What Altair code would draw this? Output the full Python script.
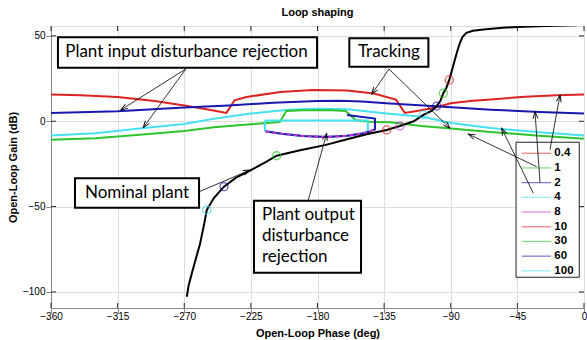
import math
import altair as alt
import pandas as pd

# ---------------- data ----------------
FREQS = ["0.4", "1", "2", "4", "8", "10", "30", "60", "100"]
FREQ_COLORS = ["#dd2222", "#2ec42e", "#1818b0", "#46e1f0", "#cc33cc",
               "#dd2222", "#2ec42e", "#1818b0", "#46e1f0"]

# boundaries (phase deg, gain dB)
b04_phase = [-360, -340, -315, -290, -270, -255, -241.5, -236, -228, -205, -183, -160,
             -142, -127, -121, -112, -101, -90, -75, -63, -40, -18, 0]
b04_gain = [15.6, 15.3, 14.2, 11.8, 9.2, 7.0, 4.9, 12.3, 14.2, 17.2, 18.3, 18.0,
            16.2, 12.7, 4.9, 6.2, 7.9, 10.5, 12.0, 12.8, 14.3, 15.2, 15.6]

b2_phase = [-360, -315, -270, -240, -210, -180, -165, -150, -131, -100, -63, -30, 0]
b2_gain = [4.8, 5.9, 8.0, 9.2, 10.8, 11.8, 12.0, 11.5, 10.4, 8.8, 6.8, 5.4, 4.5]

b4_phase = [-360, -330, -297, -270, -250, -225, -200, -180, -160, -133, -108, -90, -63, -30, 0]
b4_gain = [-8.3, -7.0, -3.9, -1.6, 1.5, 4.5, 6.8, 7.3, 7.0, 4.5, 2.5, -1.0, -3.9, -6.5, -8.3]

b1_phase = [-360, -330, -315, -290, -270, -250, -225, -205.5, -201, -190, -170, -161,
            -154, -145, -131, -110, -90, -63, -30, 0]
b1_gain = [-10.8, -10.0, -9.0, -7.2, -5.7, -3.5, -1.8, -0.5, 6.0, 6.5, 6.5, 6.0,
           0.6, -0.3, -0.6, -2.8, -4.3, -6.3, -8.5, -10.3]

b100_phase = [-215.5, -146, -146, -150, -160, -174, -190, -204, -215.5, -215.5]
b100_gain = [0.5, 0.5, -5.8, -7.2, -8.5, -9.2, -8.6, -7.3, -5.5, 0.5]

b60_phase = [-160, -141.2, -141.2, -145, -150, -160, -174, -190, -204, -215]
b60_gain = [3.6, 1.6, -4.8, -6.2, -7.2, -8.5, -9.2, -8.6, -7.3, -6.0]

b8_phase = [-215, -204, -190, -174, -160, -150, -145, -142]
b8_gain = [-6.0, -7.3, -8.6, -9.2, -8.5, -7.2, -6.2, -4.8]

# nominal plant
nom_phase = [-268.3, -267, -265, -262, -259.4, -256.5, -254.8, -250, -243.2, -235, -225.6,
             -215, -207.6, -191.8, -175, -160, -146.8, -133.3, -124.3, -115, -108.5, -103,
             -99.5, -97, -95, -93, -91, -88.5, -86, -84, -82, -79.5, -75, -68, -55, -41, -20, -5]
nom_gain = [-102.8, -96, -89.5, -80, -72, -60, -52.0, -45, -38.3, -33, -28.9,
            -24, -20.2, -17, -14, -10.5, -7.6, -5.1, -2.8, 0, 3.7, 6,
            8.9, 12, 16.4, 19.5, 24.2, 32, 39.8, 45.5, 49.5, 51.8, 53.0, 53.8, 54.8, 55.4, 55.9, 56.2]

# frequency markers on the nominal plant
mark_phase = [-91.0, -95.0, -99.5, -108.5, -124.3, -133.3, -207.6, -243.2, -254.8]
mark_gain = [24.2, 16.4, 8.9, 3.7, -2.8, -5.1, -20.2, -38.3, -52.0]

# annotation boxes
box_text = ["Plant input disturbance rejection", "Tracking", "Nominal plant"]
box_x0 = [-355.3, -158.5, -343.8]
box_x1 = [-180.3, -105.1, -260.0]
box_y0 = [49.2, 48.6, -33.4]
box_y1 = [31.4, 32.0, -50.6]
box_tx = [-268.5, -131.8, -301.9]
box_ty = [40.3, 40.3, -42.0]

out_text = "Plant output\ndisturbance\nrejection"
out_box = [-222.9, -150.6, -46.5, -88.7]
out_txt_pos = [-217.5, -54.9]

# legend frame (phase0, phase1, gain_top, gain_bottom)
legend_box = [-45.9, -3.2, -12.3, -91.4]

# arrows: tail -> head
arr_tx = [-269.0, -269.0, -131.7, -131.7, -31.95, -34.2, -29.7, -23.0, -260.0, -186.2]
arr_ty = [30.6, 30.6, 30.6, 30.6, -26.6, -42.2, -36.0, -16.8, -41.3, -46.1]
arr_hx = [-312.9, -297.7, -143.4, -90.5, -78.1, -55.6, -33.1, -16.2, -225.6, -173.8]
arr_hy = [6.6, -3.8, 15.8, -4.1, -7.5, -4.1, 5.6, 15.4, -28.6, -7.1]

x_ticks = [-360, -315, -270, -225, -180, -135, -90, -45, 0]
y_ticks = [-100, -50, 0, 50]

# ---------------- layout ----------------
W, H = 533, 282
X_DOM = [-360, 0]
Y_DOM = [-109.4, 55.8]
FONT = "Liberation Sans"
ANN_FONT = "Lato"
ppx = W / (X_DOM[1] - X_DOM[0])
ppy = H / (Y_DOM[1] - Y_DOM[0])

# legend layout (pixel offsets inside the legend frame, converted to data units)
LEG_ROW0, LEG_PITCH = 11.0, 14.7
LEG_L0, LEG_L1, LEG_TXT = 5.7, 35.0, 38.3


def series_frame(freq, phases, gains):
    return pd.DataFrame({"freq": freq, "i": list(range(len(phases))),
                         "phase": phases, "gain": gains})


lines_df = pd.concat([
    series_frame("0.4", b04_phase, b04_gain),
    series_frame("2", b2_phase, b2_gain),
    series_frame("4", b4_phase, b4_gain),
    series_frame("1", b1_phase, b1_gain),
    series_frame("100", b100_phase, b100_gain),
    series_frame("60", b60_phase, b60_gain),
], ignore_index=True)
dash_df = series_frame("8", b8_phase, b8_gain)
nom_df = pd.DataFrame({"i": list(range(len(nom_phase))), "phase": nom_phase, "gain": nom_gain})
marks_df = pd.DataFrame({"freq": FREQS, "phase": mark_phase, "gain": mark_gain})

boxes_df = pd.DataFrame({"x0": box_x0 + [out_box[0]], "x1": box_x1 + [out_box[1]],
                         "y0": box_y0 + [out_box[2]], "y1": box_y1 + [out_box[3]]})
btext_df = pd.DataFrame({"t": box_text, "phase": box_tx, "gain": box_ty})
otext_df = pd.DataFrame({"t": [out_text], "phase": [out_txt_pos[0]], "gain": [out_txt_pos[1]]})
legbox_df = pd.DataFrame({"x0": [legend_box[0]], "x1": [legend_box[1]],
                          "y0": [legend_box[2]], "y1": [legend_box[3]]})
legrows_df = pd.DataFrame({
    "freq": FREQS,
    "g": [legend_box[2] - (LEG_ROW0 + k * LEG_PITCH) / ppy for k in range(len(FREQS))],
    "x0": legend_box[0] + LEG_L0 / ppx,
    "x1": legend_box[0] + LEG_L1 / ppx,
    "lx": legend_box[0] + LEG_TXT / ppx,
})

angles = []
for tx, ty, hx, hy in zip(arr_tx, arr_ty, arr_hx, arr_hy):
    dx = (hx - tx) * ppx
    dy = -(hy - ty) * ppy
    angles.append(math.degrees(math.atan2(dx, -dy)) % 360)
arrows_df = pd.DataFrame({"tx": arr_tx, "ty": arr_ty, "hx": arr_hx, "hy": arr_hy, "ang": angles})

xt_df = pd.DataFrame({"v": x_ticks})
yt_df = pd.DataFrame({"v": y_ticks})

xscale = alt.Scale(domain=X_DOM, nice=False, zero=False)
yscale = alt.Scale(domain=Y_DOM, nice=False, zero=False)
xaxis = alt.Axis(values=x_ticks, title="Open-Loop Phase (deg)", grid=True,
                 labelFlush=False, labelOverlap=False, labelPadding=-1.5, titlePadding=5.5,
                 format="d")
yaxis = alt.Axis(values=y_ticks, title="Open-Loop Gain (dB)", grid=True,
                 labelFlush=False, labelOverlap=False, labelPadding=1, titlePadding=4,
                 format="d")


def X(field):
    return alt.X(field, type="quantitative", scale=xscale, axis=xaxis)


def Y(field):
    return alt.Y(field, type="quantitative", scale=yscale, axis=yaxis)


color = alt.Color("freq:N", scale=alt.Scale(domain=FREQS, range=FREQ_COLORS),
                  sort=FREQS, legend=None)

lines = alt.Chart(lines_df).mark_line(strokeWidth=2, clip=True).encode(
    x=X("phase"), y=Y("gain"), color=color, detail="freq:N", order="i:Q")
dashed = alt.Chart(dash_df).mark_line(strokeWidth=2, strokeDash=[4, 3], clip=True).encode(
    x=X("phase"), y=Y("gain"), color=color, order="i:Q")
nominal = alt.Chart(nom_df).mark_line(color="black", strokeWidth=2, clip=True).encode(
    x=X("phase"), y=Y("gain"), order="i:Q")
circles = alt.Chart(marks_df).mark_point(filled=False, size=64, strokeWidth=1.3).encode(
    x=X("phase"), y=Y("gain"), color=color)

legbox = alt.Chart(legbox_df).mark_rect(fill="white", stroke="#222222", strokeWidth=1).encode(
    x=X("x0"), x2="x1", y=Y("y0"), y2="y1")
leg_lines = alt.Chart(legrows_df).mark_rule(strokeWidth=1.2, opacity=0.6).encode(
    x=X("x0"), x2="x1", y=Y("g"), color=color)
leg_text = alt.Chart(legrows_df).mark_text(font=FONT, fontSize=11.5, fontWeight="bold",
                                           align="left", baseline="middle",
                                           color="black").encode(
    x=X("lx"), y=Y("g"), text="freq:N")

boxes = alt.Chart(boxes_df).mark_rect(fill="white", stroke="black", strokeWidth=2).encode(
    x=X("x0"), x2="x1", y=Y("y0"), y2="y1")
btext = alt.Chart(btext_df).mark_text(font=ANN_FONT, fontSize=17, align="center",
                                      baseline="middle", color="black").encode(
    x=X("phase"), y=Y("gain"), text="t:N")
otext = alt.Chart(otext_df).mark_text(font=ANN_FONT, fontSize=17, align="left",
                                      baseline="middle", lineBreak="\n", lineHeight=21,
                                      color="black").encode(
    x=X("phase"), y=Y("gain"), text="t:N")

arrow_lines = alt.Chart(arrows_df).mark_rule(color="black", strokeWidth=0.8).encode(
    x=X("tx"), y=Y("ty"), x2="hx", y2="hy")
arrow_heads = alt.Chart(arrows_df).mark_point(
    shape="M -0.35 1 L 0 0 L 0.35 1", filled=False, size=196, strokeWidth=0.9,
    color="black", opacity=1).encode(
    x=X("hx"), y=Y("hy"), angle=alt.Angle("ang:Q", scale=None))

tick_bottom = alt.Chart(xt_df).mark_rule(color="#262626", strokeWidth=1).encode(
    x=X("v"), y=alt.value(H - 5), y2=alt.value(H))
tick_top = alt.Chart(xt_df).mark_rule(color="#262626", strokeWidth=1).encode(
    x=X("v"), y=alt.value(0), y2=alt.value(5))
tick_left = alt.Chart(yt_df).mark_rule(color="#262626", strokeWidth=1).encode(
    y=Y("v"), x=alt.value(0), x2=alt.value(5))
tick_right = alt.Chart(yt_df).mark_rule(color="#262626", strokeWidth=1).encode(
    y=Y("v"), x=alt.value(W - 5), x2=alt.value(W))

chart = alt.layer(
    lines, dashed, nominal, circles, legbox, leg_lines, leg_text, boxes, btext, otext,
    arrow_lines, arrow_heads, tick_bottom, tick_top, tick_left, tick_right
).properties(
    width=W, height=H,
    autosize=alt.AutoSizeParams(type="none"),
    padding={"left": 51, "top": 26, "right": 3, "bottom": 32},
    title=alt.TitleParams("Loop shaping", font=FONT, fontSize=11, fontWeight="bold",
                          color="black", anchor="middle", offset=8),
).configure_view(
    stroke="#262626", strokeWidth=1
).configure_axis(
    labelFont=FONT, labelFontSize=11.5, labelFontWeight="bold", labelColor="black",
    titleFont=FONT, titleFontSize=11, titleFontWeight="bold", titleColor="black",
    gridColor="#808080", gridDash=[1, 2], gridWidth=1, domain=False, ticks=False
).configure(background="white")

chart.save("out.html", embed_options={"renderer": "svg", "actions": False})
